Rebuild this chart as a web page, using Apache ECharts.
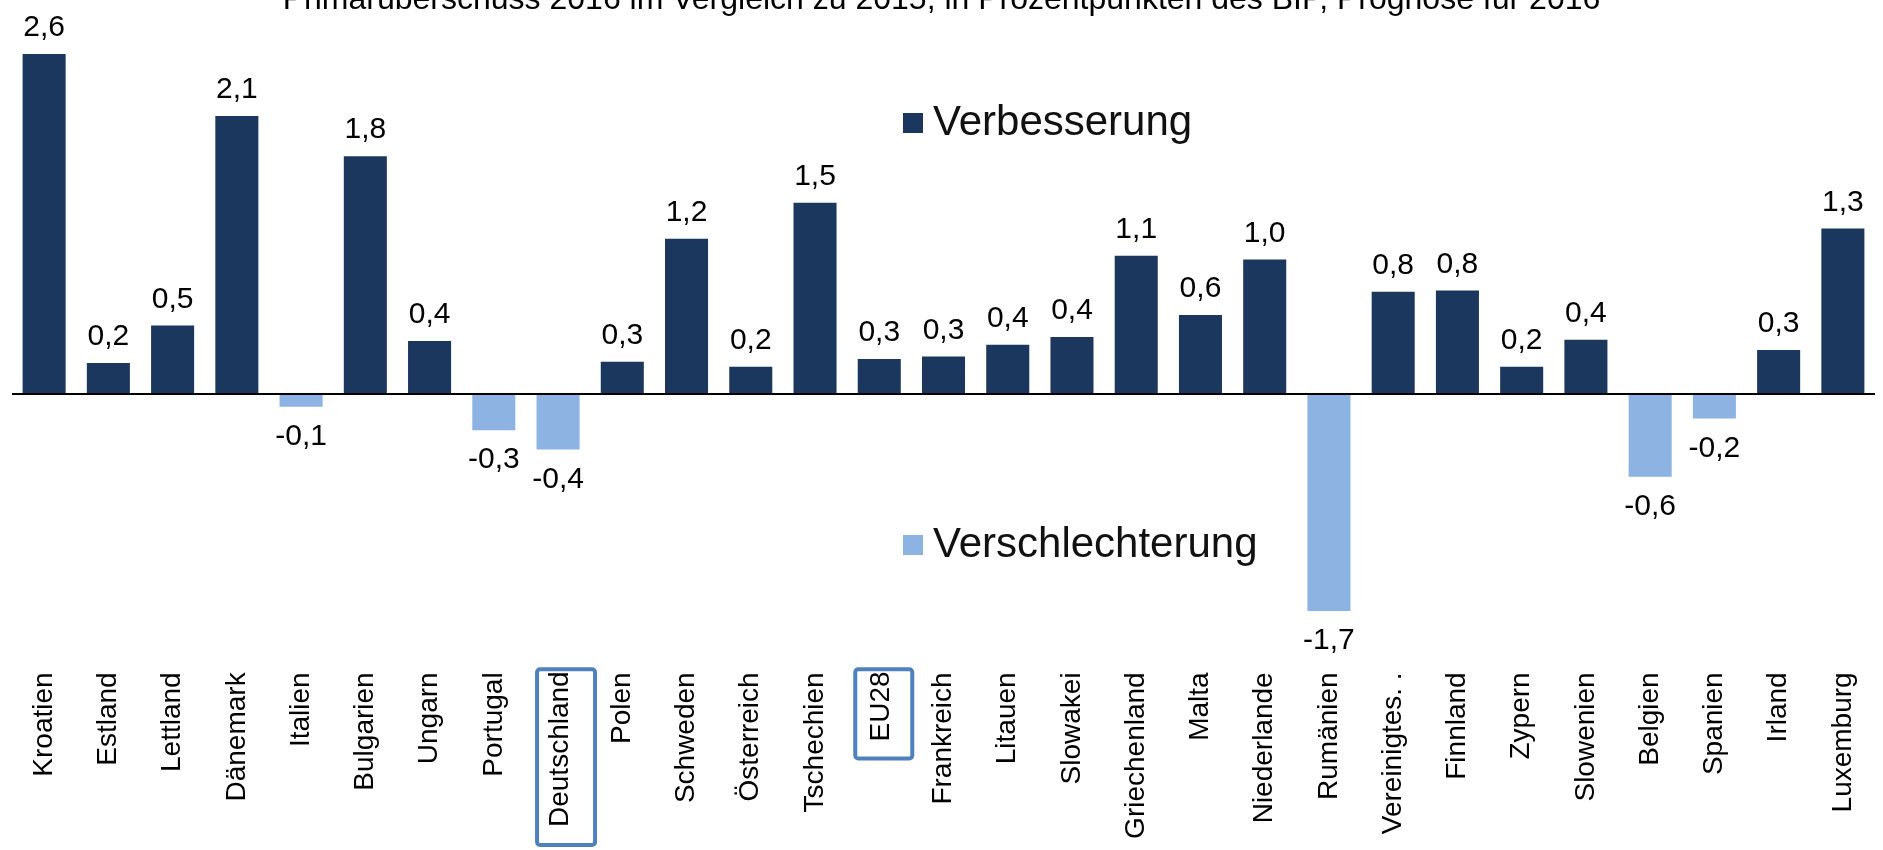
<!DOCTYPE html>
<html>
<head>
<meta charset="utf-8">
<script src="https://cdn.jsdelivr.net/npm/echarts@6/dist/echarts.min.js"></script>
<style>
  html, body { margin: 0; padding: 0; background: #fff; }
  #chart { width: 1883px; height: 850px; }
</style>
</head>
<body>
<div id="chart"></div>
<script>
var laender = ['Kroatien', 'Estland', 'Lettland', 'Dänemark', 'Italien', 'Bulgarien', 'Ungarn', 'Portugal',
    'Deutschland', 'Polen', 'Schweden', 'Österreich', 'Tschechien', 'EU28', 'Frankreich', 'Litauen',
    'Slowakei', 'Griechenland', 'Malta', 'Niederlande', 'Rumänien', 'Vereinigtes. .', 'Finnland',
    'Zypern', 'Slowenien', 'Belgien', 'Spanien', 'Irland', 'Luxemburg'];

// Veränderung in Prozentpunkten (Balkenhöhe aus dem Bild geschätzt)
var werte = [2.63, 0.24, 0.53, 2.15, -0.10, 1.84, 0.41, -0.28,
    -0.43, 0.25, 1.20, 0.21, 1.48, 0.27, 0.29, 0.38,
    0.44, 1.07, 0.61, 1.04, -1.68, 0.79, 0.80,
    0.21, 0.42, -0.64, -0.19, 0.34, 1.28];

var titel = 'Primärüberschuss 2016 im Vergleich zu 2015, in Prozentpunkten des BIP, Prognose für 2016';

var verbesserung = werte.map(function (v) { return v >= 0 ? v : '-'; });
var verschlechterung = werte.map(function (v) { return v < 0 ? v : '-'; });

var chart = echarts.init(document.getElementById('chart'));

function fmt(p) {
    return p.value.toFixed(1).replace('.', ',');
}

var option = {
    animation: false,
    textStyle: { fontFamily: 'Liberation Sans, Arial, sans-serif' },
    title: {
        text: titel,
        left: 'center',
        top: -16,
        padding: 0,
        textStyle: { fontSize: 32, fontWeight: 'normal', color: '#000' }
    },
    legend: [
        {
            data: ['Verbesserung'],
            left: 898, top: 97,
            itemWidth: 20, itemHeight: 20,
            icon: 'rect',
            textStyle: { fontSize: 42, color: '#111', padding: [0, 0, 0, 5] }
        },
        {
            data: ['Verschlechterung'],
            left: 898, top: 519,
            itemWidth: 20, itemHeight: 20,
            icon: 'rect',
            textStyle: { fontSize: 42, color: '#111', padding: [0, 0, 0, 5] }
        }
    ],
    grid: { left: 12, right: 8, top: 45, height: 629 },
    xAxis: {
        type: 'category',
        data: laender,
        axisLine: { show: false, onZero: false },
        axisTick: { show: false },
        axisLabel: {
            rotate: 90,
            margin: 0,
            interval: 0,
            formatter: function (name) {
                // Rahmen für Deutschland und EU28, leicht versetzt wie im Original
                if (name === 'Deutschland') return '{s1| }{b1|' + name + '}{g| }';
                if (name === 'EU28') return '{s2| }{b2|' + name + '}{g| }';
                return '{n|' + name + '}';
            },
            rich: {
                n: { fontSize: 28, color: '#000', lineHeight: 32, padding: [0, 7, 0, 0] },
                g: { fontSize: 1, width: 4 },
                s1: { fontSize: 1, width: 1, height: 74, lineHeight: 74 },
                b1: {
                    fontSize: 28, color: '#000', lineHeight: 32,
                    padding: [9, 2, 21, 18],
                    verticalAlign: 'bottom',
                    borderColor: '#4f81bd', borderWidth: 4, borderRadius: 3
                },
                s2: { fontSize: 1, width: 1, height: 66, lineHeight: 66 },
                b2: {
                    fontSize: 28, color: '#000', lineHeight: 32,
                    padding: [12, 2, 17, 17],
                    verticalAlign: 'bottom',
                    borderColor: '#4f81bd', borderWidth: 4, borderRadius: 3
                }
            }
        }
    },
    yAxis: {
        type: 'value',
        min: -2.1,
        max: 2.7,
        show: false,
        splitLine: { show: false }
    },
    series: [
        {
            name: 'Verbesserung',
            type: 'bar',
            stack: 'gesamt',
            data: verbesserung,
            barCategoryGap: '33%',
            itemStyle: { color: '#1b375e' },
            label: { show: true, position: 'top', distance: 11, fontSize: 30, color: '#000', formatter: fmt },
            markLine: {
                silent: true,
                symbol: 'none',
                label: { show: false },
                lineStyle: { color: '#000', width: 2, type: 'solid' },
                data: [{ yAxis: 0 }]
            }
        },
        {
            name: 'Verschlechterung',
            type: 'bar',
            stack: 'gesamt',
            data: verschlechterung,
            barCategoryGap: '33%',
            itemStyle: { color: '#8db3e2' },
            label: { show: true, position: 'bottom', distance: 15, fontSize: 30, color: '#000', formatter: fmt }
        }
    ]
};

chart.setOption(option);

window.onresize = function () {
    chart.resize();
};
</script>
</body>
</html>
